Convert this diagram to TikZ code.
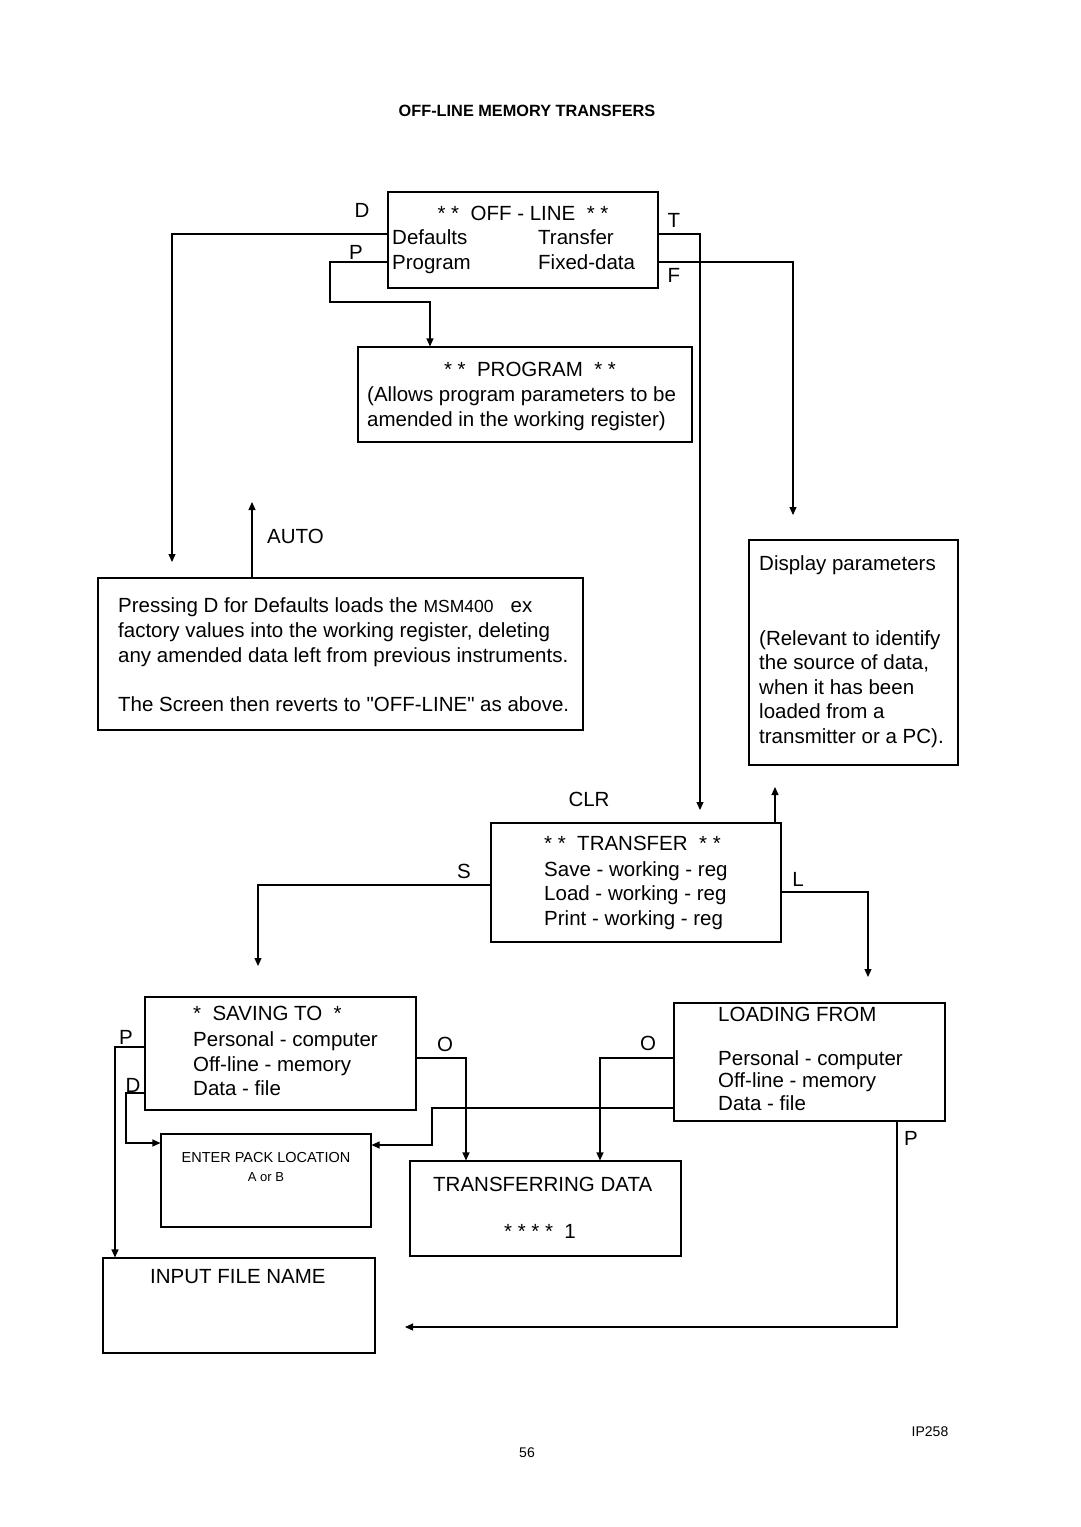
\documentclass[tikz,border=0pt]{standalone}
\usepackage{fontspec}
\setmainfont{Liberation Sans}
\newfontfamily\qfont{Liberation Sans}
\usetikzlibrary{arrows.meta}
\begin{document}
\begin{tikzpicture}[x=1pt,y=-1pt,
  box/.style={draw,line width=1.1pt,inner sep=0pt},
  txt/.style={font=\fontsize{20.5}{24}\selectfont,inner sep=0pt,anchor=base west},
  ctxt/.style={font=\fontsize{20.5}{24}\selectfont,inner sep=0pt,anchor=base},
  lbl/.style={font=\fontsize{20.5}{24}\selectfont,inner sep=0pt},
  small/.style={font=\fontsize{14.5}{17}\selectfont,inner sep=0pt,anchor=base},
  arr/.style={line width=1.1pt,-{Triangle[length=8pt,width=7pt]}},
  ln/.style={line width=1.1pt}]
\useasboundingbox (0,0) rectangle (1080,1527);
\fill[white] (0,0) rectangle (1080,1527);

% title
\node[inner sep=0pt,font=\fontsize{16.3}{18}\selectfont\bfseries] (title) at (527,111) {OFF-LINE MEMORY TRANSFERS};

% boxes
\node[box,minimum width=270pt,minimum height=96pt] (offline) at (523,240) {};
\node[box,minimum width=334pt,minimum height=95pt] (program) at (525,394.5) {};
\node[box,minimum width=485pt,minimum height=152pt] (defaults) at (340.5,654) {};
\node[box,minimum width=209pt,minimum height=225pt] (display) at (853.5,652.5) {};
\node[box,minimum width=290pt,minimum height=119pt] (transfer) at (636,882.5) {};
\node[box,minimum width=271pt,minimum height=113pt] (saving) at (280.5,1053.5) {};
\node[box,minimum width=271pt,minimum height=118pt] (loading) at (809.5,1062) {};
\node[box,minimum width=210pt,minimum height=93pt] (enterpack) at (266,1180.5) {};
\node[box,minimum width=271pt,minimum height=95pt] (transferring) at (545.5,1208.5) {};
\node[box,minimum width=272pt,minimum height=95pt] (inputfile) at (239,1305.5) {};

% OFF-LINE texts
\node[ctxt] (offt) at (523,220) {* *\ \ OFF - LINE\ \ * *};
\node[txt] (offd) at (392,244) {Defaults};
\node[txt] (offtr) at (538,244) {Transfer};
\node[txt] (offp) at (392,269) {Program};
\node[txt] (offf) at (538,269) {Fixed-data};
\node[lbl] (lD) at (362,210) {D};
\node[lbl] (lP) at (356,252) {P};
\node[lbl] (lT) at (674,220) {T};
\node[lbl] (lF) at (674,275) {F};

% PROGRAM texts
\node[ctxt] (prt) at (530,376) {* *\ \ PROGRAM\ \ * *};
\node[txt] (pr1) at (367,401) {(Allows program parameters to be};
\node[txt] (pr2) at (367,426) {amended in the working register)};

% AUTO
\node[lbl,anchor=west] (lauto) at (267,536) {AUTO};

% Defaults texts
\node[txt] (de1) at (118,612) {Pressing D for Defaults loads the {\fontsize{17.5}{20}\selectfont MSM400}\ \ \ ex};
\node[txt] (de2) at (118,637) {factory values into the working register, deleting};
\node[txt] (de3) at (118,662) {any amended data left from previous instruments.};
\node[txt] (de4) at (118,711) {\qfont The Screen then reverts to "OFF-LINE" as above.};

% Display texts
\node[txt] (di1) at (759,570) {Display parameters};
\node[txt] (di2) at (759,645) {(Relevant to identify};
\node[txt] (di3) at (759,669) {the source of data,};
\node[txt] (di4) at (759,694) {when it has been};
\node[txt] (di5) at (759,718) {loaded from a};
\node[txt] (di6) at (759,743) {transmitter or a PC).};

% TRANSFER texts
\node[lbl] (lclr) at (589,799) {CLR};
\node[txt] (tr0) at (544,850) {* *\ \ TRANSFER\ \ * *};
\node[txt] (tr1) at (544,876) {Save - working - reg};
\node[txt] (tr2) at (544,900) {Load - working - reg};
\node[txt] (tr3) at (544,925) {Print - working - reg};
\node[lbl] (lS) at (464,871) {S};
\node[lbl] (lL) at (798,879) {L};

% SAVING texts
\node[txt] (sa0) at (193,1020) {*\ \ SAVING TO\ \ *};
\node[txt] (sa1) at (193,1046) {Personal - computer};
\node[txt] (sa2) at (193,1071) {Off-line - memory};
\node[txt] (sa3) at (193,1095) {Data - file};
\node[lbl] (lsP) at (126,1037) {P};
\node[lbl] (lsD) at (133,1085) {D};
\node[lbl] (lsO) at (445,1044) {O};

% LOADING texts
\node[txt] (lo0) at (718,1021) {LOADING FROM};
\node[txt] (lo1) at (718,1065) {Personal - computer};
\node[txt] (lo2) at (718,1087) {Off-line - memory};
\node[txt] (lo3) at (718,1110) {Data - file};
\node[lbl] (llO) at (648,1043) {O};
\node[lbl] (llP) at (911,1138) {P};

% ENTER PACK
\node[small] (ep1) at (266,1162) {ENTER PACK LOCATION};
\node[small,font=\fontsize{13}{15}\selectfont] (ep2) at (266,1181) {A or B};

% TRANSFERRING
\node[txt] (td1) at (433,1191) {TRANSFERRING DATA};
\node[ctxt] (td2) at (540,1238) {* * * *\ \ 1};

% INPUT
\node[txt] (in1) at (150,1283) {INPUT FILE NAME};

% footer
\node[inner sep=0pt,font=\fontsize{14}{16}\selectfont] (ip) at (930,1432) {IP258};
\node[inner sep=0pt,font=\fontsize{14}{16}\selectfont] (pg) at (527,1453) {56};

% free ends
\coordinate (dEnd) at (172,562);
\coordinate (tEnd) at (700,810);
\coordinate (fEnd) at (793,515);
\coordinate (autoEnd) at (252,502);
\coordinate (upEnd) at (775,787);
\coordinate (sEnd) at (258,966);
\coordinate (lEnd) at (868,977);
\coordinate (pEnd) at (405,1327);

% connectors
\draw[arr] ([yshift=6pt]offline.west) -| (dEnd);
\draw[arr] ([yshift=-22pt]offline.west) -| (330,302) -| ([xshift=-95pt]program.north);
\draw[arr] ([yshift=6pt]offline.east) -| (tEnd);
\draw[arr] ([yshift=-22pt]offline.east) -| (fEnd);
\draw[arr] ([xshift=-88.5pt]defaults.north) -- (autoEnd);
\draw[arr] ([xshift=139pt]transfer.north) -- (upEnd);
\draw[arr] ([yshift=-2.5pt]transfer.west) -| (sEnd);
\draw[arr] ([yshift=-9.5pt]transfer.east) -| (lEnd);
\draw[arr] ([yshift=6.5pt]saving.west) -| ([xshift=-124pt]inputfile.north);
\draw[arr] ([yshift=-39.5pt]saving.west) -| (126,1143) -- ([yshift=37.5pt]enterpack.west);
\draw[arr] ([yshift=-4.5pt]saving.east) -| ([xshift=-79.5pt]transferring.north);
\draw[arr] ([yshift=4pt]loading.west) -| ([xshift=54.5pt]transferring.north);
\draw[arr] ([yshift=-46pt]loading.west) -| (432,1145) -- ([yshift=35.5pt]enterpack.east);
\draw[arr] ([xshift=87.5pt]loading.south) |- (pEnd);
\end{tikzpicture}
\end{document}
